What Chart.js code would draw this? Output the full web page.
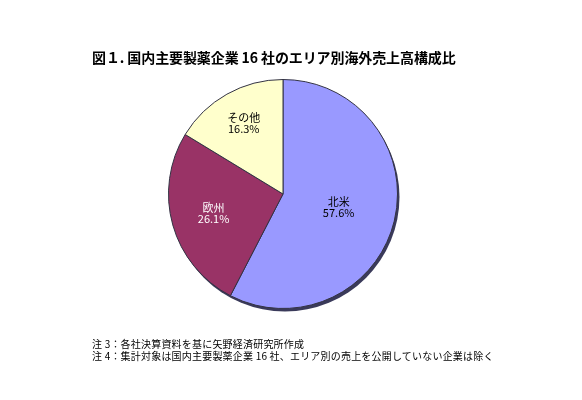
<!DOCTYPE html>
<html>
<head>
<meta charset="utf-8">
<script src="https://cdn.jsdelivr.net/npm/chart.js@4"></script>
<style>
  html, body { margin: 0; padding: 0; background: #fff; }
  #wrap { position: relative; width: 582px; height: 400px; }
  canvas { position: absolute; left: 0; top: 0; }
  .title { position: absolute; left: 92px; top: 47px; font: bold 14px "Noto Sans CJK JP", sans-serif; color: #000; white-space: nowrap; letter-spacing: -0.1px; }
  .note { position: absolute; left: 92px; font: 10px "Noto Sans CJK JP", sans-serif; color: #000; white-space: nowrap; letter-spacing: 0.2px; }
</style>
</head>
<body>
<div id="wrap">
  <canvas id="c" width="582" height="400"></canvas>
  <div class="title">図１. 国内主要製薬企業 16 社のエリア別海外売上高構成比</div>
  <div class="note" style="top:336px">注 3：各社決算資料を基に矢野経済研究所作成</div>
  <div class="note" style="top:348px">注 4：集計対象は国内主要製薬企業 16 社、エリア別の売上を公開していない企業は除く</div>
</div>
<script>
// Overseas sales share by region (%)
const regions = ['北米', '欧州', 'その他'];
const shares = [57.6, 26.1, 16.3];

const sliceColors = ['#9999FF', '#993366', '#FFFFCC'];
const labelColors = ['#000000', '#FFFFFF', '#000000'];
const labelRadius = [0.50, 0.63, 0.70];

// drop shadow behind the pie
const pieShadow = {
  id: 'pieShadow',
  beforeDatasetsDraw(chart) {
    const arc = chart.getDatasetMeta(0).data[0];
    if (!arc) return;
    const { x, y, outerRadius } = arc.getProps(['x', 'y', 'outerRadius'], true);
    const ctx = chart.ctx;
    ctx.save();
    ctx.fillStyle = '#3a3a5a';
    ctx.beginPath();
    ctx.arc(x + 2, y + 3, outerRadius, 0, Math.PI * 2);
    ctx.fill();
    ctx.restore();
  }
};

// category name and percentage inside each slice
const sliceLabels = {
  id: 'sliceLabels',
  afterDatasetsDraw(chart) {
    const ctx = chart.ctx;
    const meta = chart.getDatasetMeta(0);
    ctx.save();
    ctx.font = '11px "Noto Sans CJK JP", sans-serif';
    ctx.textAlign = 'center';
    ctx.textBaseline = 'middle';
    meta.data.forEach((arc, i) => {
      const p = arc.getProps(['x', 'y', 'startAngle', 'endAngle', 'outerRadius'], true);
      const mid = (p.startAngle + p.endAngle) / 2;
      const d = p.outerRadius * labelRadius[i];
      const lx = p.x + Math.cos(mid) * d;
      const ly = p.y + Math.sin(mid) * d;
      ctx.fillStyle = labelColors[i];
      ctx.fillText(regions[i], lx, ly - 6);
      ctx.fillText(shares[i].toFixed(1) + '%', lx, ly + 5);
    });
    ctx.restore();
  }
};

new Chart(document.getElementById('c'), {
  type: 'pie',
  data: {
    labels: regions,
    datasets: [{
      data: shares,
      backgroundColor: sliceColors,
      borderColor: '#333344',
      borderWidth: 1
    }]
  },
  options: {
    responsive: false,
    animation: false,
    layout: { padding: { left: 168, right: 184, top: 79, bottom: 91 } },
    plugins: {
      legend: { display: false },
      tooltip: { enabled: false }
    }
  },
  plugins: [pieShadow, sliceLabels]
});
</script>
</body>
</html>
